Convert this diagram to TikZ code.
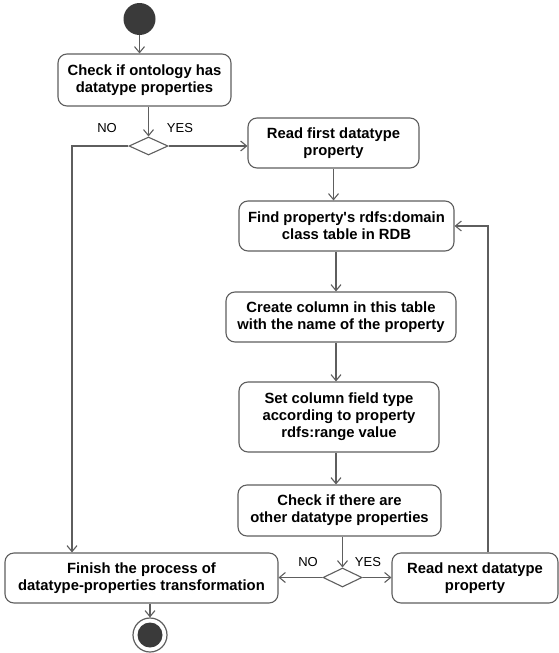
\documentclass[tikz,border=0pt]{standalone}
\usepackage{fontspec}
\setmainfont{Liberation Sans}
\usetikzlibrary{arrows.meta,shapes.geometric}
\definecolor{linegray}{HTML}{5E5E5E}
\definecolor{dotfill}{HTML}{3A3A3A}
\begin{document}
\begin{tikzpicture}[x=1pt,y=-1pt,
  action/.style={draw=linegray, line width=1.1pt, rounded corners=9pt, fill=white,
    align=center, inner sep=0pt, font=\bfseries\fontsize{14.8}{17}\selectfont},
  decision/.style={diamond, draw=linegray, line width=1.1pt, fill=white, inner sep=0pt,
    minimum width=39pt, minimum height=18pt},
  guard/.style={font=\fontsize{13}{15}\selectfont, inner sep=0pt},
  flow/.style={draw=linegray, line width=1.1pt, -{Straight Barb[length=6pt,width=10pt]}},
  plain/.style={draw=linegray, line width=1.1pt}]
\useasboundingbox (0,0) rectangle (559,653);

% start and end markers
\node[circle, fill=dotfill, minimum size=32pt, inner sep=0pt] (start) at (139.5,19) {};
\node[circle, draw=linegray, line width=1.2pt, fill=white, minimum size=34pt, inner sep=0pt] (end) at (150,635) {};
\node[circle, fill=dotfill, minimum size=25pt, inner sep=0pt] (endcore) at (end) {};

% actions
\node[action, minimum width=173pt, minimum height=52pt] (box1) at (144.5,80)
  {Check if ontology has\\datatype properties};
\node[action, minimum width=171pt, minimum height=50pt] (read1) at (333.5,143)
  {Read first datatype\\property};
\node[action, minimum width=215pt, minimum height=50pt] (find) at (346.5,226)
  {Find property\textquotesingle s rdfs:domain\\class table in RDB};
\node[action, minimum width=230pt, minimum height=50pt] (create) at (341,317)
  {Create column in this table\\with the name of the property};
\node[action, minimum width=200pt, minimum height=70pt] (set) at (339,417)
  {Set column field type\\according to property\\rdfs:range value};
\node[action, minimum width=203pt, minimum height=51pt] (check2) at (339.5,510.5)
  {Check if there are\\other datatype properties};
\node[action, minimum width=273pt, minimum height=50pt] (finish) at (141.5,578)
  {Finish the process of\\datatype-properties transformation};
\node[action, minimum width=166pt, minimum height=50pt] (readnext) at (475,578)
  {Read next datatype\\property};

% decisions
\node[decision] (d1) at (148.5,146) {};
\node[decision, minimum height=19pt] (d2) at (342.5,577.5) {};

% guards
\node[guard] (no1) at (107,128) {NO};
\node[guard] (yes1) at (180,128) {YES};
\node[guard] (no2) at (308,562) {NO};
\node[guard] (yes2) at (368,562) {YES};

% routing columns
\coordinate (noturn) at (72,146);
\coordinate (spine) at (336,0);
\coordinate (loop) at (488,0);

% connectors
\draw[flow] (start.south) -- (start.south |- box1.north);
\draw[flow] (box1.south -| d1.north) -- (d1.north);
\draw[flow] (d1.east) -- (d1.east -| read1.west);
\draw[flow] (d1.west) -- (noturn) -- (noturn |- finish.north);
\draw[flow] (read1.south) -- (read1.south |- find.north);
\draw[flow] (find.south -| spine) -- (create.north -| spine);
\draw[flow] (create.south -| spine) -- (set.north -| spine);
\draw[flow] (set.south -| spine) -- (check2.north -| spine);
\draw[flow] (check2.south -| d2.north) -- (d2.north);
\draw[flow] (d2.west) -- (d2.west -| finish.east);
\draw[flow] (d2.east) -- (d2.east -| readnext.west);
\draw[flow] (readnext.north -| loop) -- (loop |- find.east) -- (find.east);
\draw[flow] (finish.south -| end.north) -- (end.north);
\end{tikzpicture}
\end{document}
